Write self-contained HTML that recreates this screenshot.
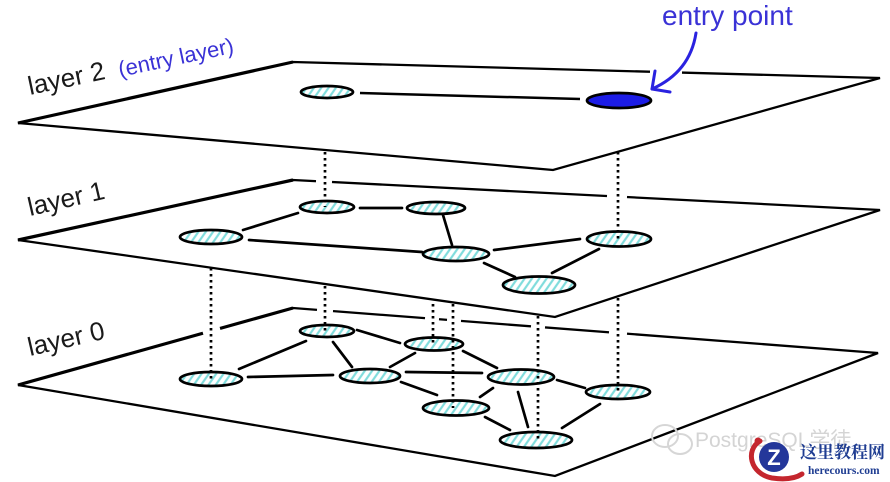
<!DOCTYPE html>
<html>
<head>
<meta charset="utf-8">
<style>
  html, body { margin:0; padding:0; background:#fff; }
  body { width:890px; height:482px; overflow:hidden; }
  svg { display:block; }
  .lbl { font-family:"Liberation Sans", sans-serif; fill:#1a1a1a; }
  .blue { font-family:"Liberation Sans", sans-serif; fill:#3a32d6; }
</style>
</head>
<body>
<svg width="890" height="482" viewBox="0 0 890 482" xmlns="http://www.w3.org/2000/svg">
  <defs>
    <pattern id="hatch" patternUnits="userSpaceOnUse" width="6" height="6" patternTransform="rotate(35)">
      <rect width="6" height="6" fill="#fff"/>
      <line x1="1.5" y1="0" x2="1.5" y2="6" stroke="#80dcdc" stroke-width="2.2"/>
    </pattern>
  </defs>

  <!-- ============ LAYER 0 ============ -->
  <polygon points="18,385 293,308 878,353 555,476" fill="#fff" stroke="#000" stroke-width="2.3" stroke-linejoin="miter"/>
  <line x1="18" y1="385" x2="293" y2="308" stroke="#000" stroke-width="3.2"/>
  <g stroke="#fff" stroke-width="7">
    <line x1="203" y1="333.2" x2="220" y2="328.4"/>
    <line x1="317" y1="309.8" x2="333" y2="311.1"/>
    <line x1="425" y1="318.2" x2="439" y2="319.2"/>
    <line x1="447" y1="320" x2="461" y2="321"/>
    <line x1="531" y1="326.3" x2="545" y2="327.4"/>
    <line x1="609" y1="332.3" x2="627" y2="333.7"/>
  </g>
  <g stroke="#000" stroke-width="2.7" stroke-linecap="round">
    <line x1="357" y1="330" x2="400" y2="343"/>
    <line x1="239" y1="369" x2="306" y2="341"/>
    <line x1="333" y1="342" x2="352" y2="367"/>
    <line x1="248" y1="377" x2="333" y2="375"/>
    <line x1="390" y1="367" x2="415" y2="353"/>
    <line x1="406" y1="372" x2="482" y2="373"/>
    <line x1="401" y1="382" x2="437" y2="395"/>
    <line x1="463" y1="351" x2="497" y2="368"/>
    <line x1="480" y1="397" x2="493" y2="388"/>
    <line x1="557" y1="380" x2="585" y2="388"/>
    <line x1="518" y1="392" x2="528" y2="427"/>
    <line x1="485" y1="417" x2="510" y2="430"/>
    <line x1="562" y1="428" x2="600" y2="404"/>
  </g>
  <g fill="url(#hatch)" stroke="#000" stroke-width="2.7">
    <ellipse cx="327" cy="331" rx="27" ry="6"/>
    <ellipse cx="434" cy="344" rx="29" ry="6.5"/>
    <ellipse cx="211" cy="379" rx="31" ry="7"/>
    <ellipse cx="370" cy="376" rx="30" ry="7"/>
    <ellipse cx="521" cy="377" rx="33" ry="7.5"/>
    <ellipse cx="618" cy="392" rx="32" ry="7"/>
    <ellipse cx="456" cy="408" rx="33" ry="7.5"/>
    <ellipse cx="536" cy="440" rx="36" ry="8"/>
  </g>
  <g stroke="#000" stroke-width="2.7" stroke-dasharray="2.5 3.5">
    <line x1="211" y1="250" x2="211" y2="379"/>
    <line x1="325" y1="250" x2="325" y2="331"/>
    <line x1="433" y1="250" x2="433" y2="344"/>
    <line x1="453" y1="250" x2="453" y2="408"/>
    <line x1="538" y1="280" x2="538" y2="440"/>
    <line x1="618" y1="250" x2="618" y2="392"/>
  </g>

  <!-- ============ LAYER 1 ============ -->
  <polygon points="18,240 293,180 880,210 555,317" fill="#fff" stroke="#000" stroke-width="2.3"/>
  <line x1="18" y1="240" x2="293" y2="180" stroke="#000" stroke-width="3.2"/>
  <g stroke="#fff" stroke-width="7">
    <line x1="316" y1="181.2" x2="332" y2="182"/>
    <line x1="607" y1="196" x2="627" y2="197"/>
  </g>
  <g stroke="#000" stroke-width="2.7" stroke-linecap="round">
    <line x1="360" y1="208" x2="402" y2="208"/>
    <line x1="243" y1="230" x2="298" y2="213"/>
    <line x1="249" y1="240" x2="422" y2="252"/>
    <line x1="443" y1="215" x2="452" y2="245"/>
    <line x1="494" y1="250" x2="580" y2="239"/>
    <line x1="484" y1="263" x2="515" y2="277"/>
    <line x1="552" y1="273" x2="599" y2="249"/>
  </g>
  <g fill="url(#hatch)" stroke="#000" stroke-width="2.7">
    <ellipse cx="327" cy="207" rx="27" ry="6"/>
    <ellipse cx="436" cy="208" rx="29" ry="6"/>
    <ellipse cx="211" cy="237" rx="31" ry="7"/>
    <ellipse cx="456" cy="254" rx="33" ry="7"/>
    <ellipse cx="619" cy="239" rx="32" ry="7.5"/>
    <ellipse cx="539" cy="285" rx="36" ry="8.5"/>
  </g>
  <g stroke="#000" stroke-width="2.7" stroke-dasharray="2.5 3.5">
    <line x1="325" y1="140" x2="325" y2="207"/>
    <line x1="618" y1="140" x2="618" y2="239"/>
  </g>

  <!-- ============ LAYER 2 ============ -->
  <polygon points="18,123 293,62 880,78 553,170" fill="#fff" stroke="#000" stroke-width="2.3"/>
  <line x1="18" y1="123" x2="293" y2="62" stroke="#000" stroke-width="3.2"/>
  <line x1="650" y1="71.7" x2="682" y2="72.6" stroke="#fff" stroke-width="7"/>
  <line x1="360" y1="93" x2="580" y2="99" stroke="#000" stroke-width="2.5"/>
  <ellipse cx="327" cy="92" rx="26" ry="6" fill="url(#hatch)" stroke="#000" stroke-width="2.7"/>
  <ellipse cx="619" cy="100.5" rx="32" ry="7.5" fill="#1c1ce6" stroke="#000" stroke-width="2.7"/>

  <!-- arrow -->
  <path d="M696,33 Q690,72 652,89" fill="none" stroke="#2a22e0" stroke-width="3" stroke-linecap="round"/>
  <path d="M655,71 L652,89 L670,92" fill="none" stroke="#2a22e0" stroke-width="3" stroke-linecap="round" stroke-linejoin="round"/>

  <!-- labels -->
  <text class="blue" x="662" y="25" font-size="28">entry point</text>
  <text class="lbl" x="30" y="95" font-size="26" transform="rotate(-12 30 95)">layer 2</text>
  <text class="blue" x="120" y="77" font-size="22" transform="rotate(-12 120 77)">(entry layer)</text>
  <text class="lbl" x="30" y="216" font-size="26" transform="rotate(-13 30 216)">layer 1</text>
  <text class="lbl" x="30" y="356" font-size="26" transform="rotate(-13 30 356)">layer 0</text>

  <!-- watermark -->
  <g fill="none" stroke="#d6d6d6" stroke-width="2">
    <ellipse cx="665" cy="436" rx="13" ry="11"/>
    <ellipse cx="680" cy="444" rx="12" ry="10"/>
  </g>
  <text x="695" y="447" font-family="Liberation Sans, 'Noto Sans CJK SC', sans-serif" font-size="21" fill="#d4d4d4">PostgreSQL学徒</text>
  <path d="M760,441 C745,450 750,474 772,478 C786,480 796,478 802,474" fill="none" stroke="#c4262e" stroke-width="5" stroke-linecap="round"/>
  <circle cx="758" cy="441" r="3.5" fill="#c4262e"/>
  <circle cx="774" cy="457" r="15" fill="#24379a"/>
  <text x="774" y="465" text-anchor="middle" font-family="Liberation Sans, sans-serif" font-weight="bold" font-size="22" fill="#fff">Z</text>
  <text x="800" y="458" font-family="'Noto Serif CJK SC', 'Noto Sans CJK SC', serif" font-weight="bold" font-size="17" fill="#1f3d92">这里教程网</text>
  <text x="808" y="474" font-family="Liberation Serif, serif" font-weight="bold" font-size="11.5" fill="#1f3d92">herecours.com</text>
</svg>
</body>
</html>
